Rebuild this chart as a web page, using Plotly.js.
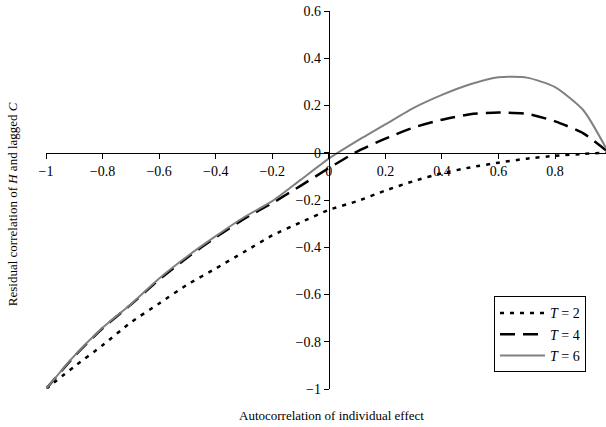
<!DOCTYPE html>
<html>
<head>
<meta charset="utf-8">
<script src="https://cdn.plot.ly/plotly-3.0.1.min.js"></script>
<style>html,body{margin:0;padding:0;background:#fff;}#chart{width:606px;height:427px;}</style>
</head>
<body>
<div id="chart"></div>
<script>
const xVals = [-1, -0.9, -0.8, -0.7, -0.6, -0.5, -0.4, -0.3, -0.2, -0.1, 0, 0.1, 0.2, 0.3, 0.4, 0.5, 0.6, 0.7, 0.8, 0.9, 0.98];
const t2 = [-1, -0.905, -0.815, -0.718, -0.638, -0.558, -0.49, -0.42, -0.35, -0.295, -0.242, -0.205, -0.16, -0.12, -0.087, -0.062, -0.042, -0.025, -0.013, -0.005, 0];
const t4 = [-1, -0.862, -0.743, -0.643, -0.537, -0.443, -0.358, -0.28, -0.213, -0.14, -0.065, 0.005, 0.06, 0.107, 0.14, 0.163, 0.17, 0.165, 0.133, 0.082, 0.01];
const t6 = [-1, -0.86, -0.741, -0.641, -0.532, -0.438, -0.353, -0.273, -0.205, -0.115, -0.025, 0.05, 0.12, 0.19, 0.245, 0.29, 0.32, 0.318, 0.278, 0.18, 0.02];
const seriesNames = ['<i>T</i> = 2', '<i>T</i> = 4', '<i>T</i> = 6'];
const xTicks = [-1, -0.8, -0.6, -0.4, -0.2, 0, 0.2, 0.4, 0.6, 0.8];
const yTicks = [-1, -0.8, -0.6, -0.4, -0.2, 0, 0.2, 0.4, 0.6];

const font = "Liberation Serif";
const traces = [
  {x: xVals, y: t2, name: seriesNames[0], mode: 'lines', line: {color: '#000', width: 2.5, dash: '4px,6px', shape: 'spline', smoothing: 0.6}},
  {x: xVals, y: t4, name: seriesNames[1], mode: 'lines', line: {color: '#000', width: 2.5, dash: '15px,8px', shape: 'spline', smoothing: 0.6}},
  {x: xVals, y: t6, name: seriesNames[2], mode: 'lines', line: {color: '#808080', width: 2, shape: 'spline', smoothing: 0.6}}
];
const layout = {
  width: 606, height: 427,
  margin: {l: 46, r: 0, t: 11, b: 38, pad: 0},
  paper_bgcolor: '#fff', plot_bgcolor: '#fff',
  font: {family: font, size: 14, color: '#000'},
  showlegend: true,
  xaxis: {
    range: [-1, 0.98], anchor: 'free', position: 0.625,
    tickvals: xTicks, ticks: 'outside', ticklen: 5, tickcolor: '#000',
    showline: true, linecolor: '#000', linewidth: 1,
    showgrid: false, zeroline: false, tickfont: {family: font, size: 14}
  },
  yaxis: {
    range: [-1, 0.6], anchor: 'free', position: 1/1.98,
    tickvals: yTicks, ticks: 'outside', ticklen: 5, tickcolor: '#000',
    showline: true, linecolor: '#000', linewidth: 1,
    showgrid: false, zeroline: false, tickfont: {family: font, size: 14}
  },
  legend: {
    x: 0.8, y: 0.245, xanchor: 'left', yanchor: 'top',
    bordercolor: '#000', borderwidth: 1, bgcolor: '#fff',
    font: {family: font, size: 14}, itemwidth: 45, tracegroupgap: 0
  },
  annotations: [
    {text: 'Autocorrelation of individual effect', xref: 'paper', yref: 'paper', x: 0.509, y: -0.0714,
     xanchor: 'center', yanchor: 'middle', showarrow: false, font: {family: font, size: 13}},
    {text: 'Residual correlation of <i>H</i> and lagged <i>C</i>', xref: 'paper', yref: 'paper', x: -0.0607, y: 0.489,
     xanchor: 'center', yanchor: 'middle', textangle: -90, showarrow: false, font: {family: font, size: 13}}
  ]
};
Plotly.newPlot('chart', traces, layout, {displayModeBar: false, staticPlot: true});
</script>
</body>
</html>
